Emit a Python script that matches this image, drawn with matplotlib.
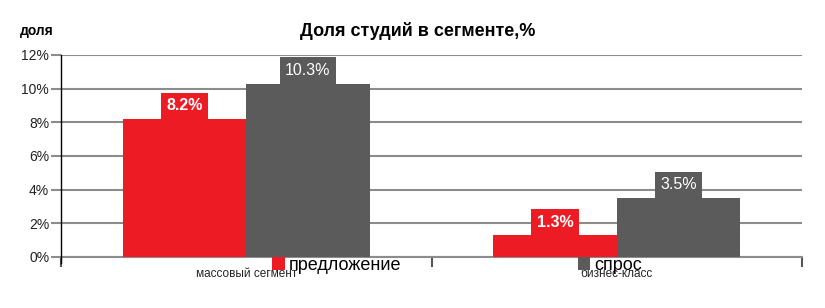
import matplotlib
matplotlib.use("Agg")
import matplotlib.pyplot as plt
import numpy as np

categories = ["массовый сегмент", "бизнес-класс"]
series_names = ["предложение", "спрос"]
offer = [8.2, 1.3]
demand = [10.3, 3.5]
yticks = [0, 2, 4, 6, 8, 10, 12]

plt.rcParams['font.family'] = ['Liberation Sans', 'DejaVu Sans']

red = '#ed1c24'
gray = '#5b5b5b'

fig = plt.figure(figsize=(8.25, 3.08), dpi=100)
ax = fig.add_axes([61/825, 1 - 257/308, 741/825, 202/308])

x = np.arange(len(categories))
w = 1/3
b1 = ax.bar(x - w/2, offer, width=w, color=red, label=series_names[0], zorder=3)
b2 = ax.bar(x + w/2, demand, width=w, color=gray, label=series_names[1], zorder=3)

# value labels in a box sitting right on top of each bar
fs = 11.5
pad = 0.35
for bars, vals, col, wt in [(b1, offer, red, 'bold'), (b2, demand, gray, 'normal')]:
    for r, v in zip(bars, vals):
        ax.annotate(f"{v:.1f}%", (r.get_x() + r.get_width()/2, v),
                    xytext=(0, pad*fs), textcoords='offset points',
                    ha='center', va='bottom', color='white', fontsize=fs,
                    fontweight=wt, zorder=4,
                    bbox=dict(boxstyle=f'square,pad={pad}', fc=col, ec='none'))

ax.set_xlim(-0.5, 1.5)
ax.set_ylim(0, 12)
ax.set_yticks(yticks)
ax.set_yticklabels([f"{t}%" for t in yticks], fontsize=10, color='#222222')
ax.yaxis.grid(True, color='#8c8c8c', linewidth=1.5, zorder=0)
ax.tick_params(axis='y', length=7, width=1.5, color='#8c8c8c', pad=1.5)

ax.set_xticks(x)
ax.set_xticklabels(categories, fontsize=8.5, color='#222222')
ax.tick_params(axis='x', which='major', length=0, pad=8)
ax.set_xticks([-0.5, 0.5, 1.5], minor=True)
ax.tick_params(axis='x', which='minor', length=7, width=1.5, color='#555555')

for s in ['top', 'right']:
    ax.spines[s].set_visible(False)
ax.spines['bottom'].set_color('#8c8c8c')
ax.spines['bottom'].set_linewidth(1.5)
ax.spines['left'].set_color('black')
ax.spines['left'].set_linewidth(1)
ax.spines['left'].set_bounds(-0.35, 12)
ax.spines['left'].set_zorder(5)

ax.legend(ncol=2, loc='upper left', bbox_to_anchor=(211/741, 0.0),
          frameon=False, fontsize=13, handlelength=0.7, handleheight=0.7,
          handletextpad=0.2, columnspacing=9.8, borderpad=0, borderaxespad=0)

fig.text(418/825, 1 - 31/308, "Доля студий в сегменте,%", ha='center', va='center',
         fontsize=13, fontweight='bold')
fig.text(20/825, 1 - 31/308, "доля", ha='left', va='center', fontsize=10,
         fontweight='bold')

fig.savefig('out.png', dpi=100)
